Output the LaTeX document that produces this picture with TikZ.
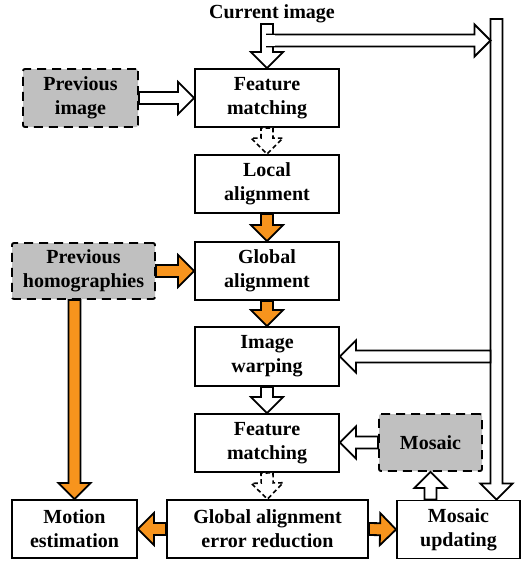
\documentclass[tikz,border=0pt]{standalone}
\usepackage{fontspec}
\setmainfont{Liberation Serif}
\usetikzlibrary{calc}
\definecolor{arrorange}{RGB}{247,148,29}
\definecolor{boxgray}{RGB}{192,192,192}
\newcommand\blockarr[3]{%
  \coordinate (ba-s) at #2;
  \coordinate (ba-e) at #3;
  \coordinate (ba-c) at ($(ba-e)!16pt!(ba-s)$);
  \draw[#1] ($(ba-s)!6pt!90:(ba-e)$) -- ($(ba-c)!6pt!90:(ba-e)$) -- ($(ba-c)!16pt!90:(ba-e)$) -- (ba-e) -- ($(ba-c)!16pt!-90:(ba-e)$) -- ($(ba-c)!6pt!-90:(ba-e)$) -- ($(ba-s)!6pt!-90:(ba-e)$) -- cycle;}
\tikzset{
  box/.style={draw, line width=1.9pt, fill=white, align=center, inner sep=0pt,
    font=\fontsize{20}{24}\selectfont\bfseries},
  graybox/.style={box, fill=boxgray, dash pattern=on 9pt off 6pt, rounded corners=2pt},
  hollowarr/.style={draw=black, fill=white, line width=1.8pt},
  orangearr/.style={draw=black, fill=arrorange, line width=1.8pt},
  dasharr/.style={draw=black, fill=white, line width=1.6pt, dash pattern=on 4.5pt off 3pt},
}
\begin{document}
\begin{tikzpicture}[x=1pt,y=-1pt]
\useasboundingbox (0,0) rectangle (521,563);
% nodes
\node[anchor=base, font=\fontsize{20}{24}\selectfont\bfseries] (cur) at (272,18) {Current image};
\node[box, minimum width=144pt, minimum height=58pt] (fm1) at (267,98) {Feature\\matching};
\node[box, minimum width=144pt, minimum height=58pt] (la) at (267,184) {Local\\alignment};
\node[box, minimum width=144pt, minimum height=58pt] (ga) at (267,271) {Global\\alignment};
\node[box, minimum width=144pt, minimum height=59pt] (iw) at (267,356.5) {Image\\warping};
\node[box, minimum width=144pt, minimum height=58pt] (fm2) at (267,443) {Feature\\matching};
\node[graybox, minimum width=115pt, minimum height=58pt] (pi) at (80.5,98) {Previous\\image};
\node[graybox, minimum width=143pt, minimum height=56pt] (ph) at (83.5,271) {Previous\\homographies};
\node[graybox, minimum width=103pt, minimum height=57pt] (mo) at (430.5,442.5) {Mosaic};
\node[box, minimum width=125pt, minimum height=58pt] (me) at (74.5,529) {Motion\\estimation};
\node[box, minimum width=201pt, minimum height=58pt] (gaer) at (267.5,529) {Global alignment\\error reduction};
\node[box, minimum width=123pt, minimum height=58pt] (mu) at (458.5,529.5) {Mosaic\\updating};
\coordinate (bartop) at (496.5,19);
\coordinate (curstart) at (267,24);
% big bar arrow down to mosaic updating
\blockarr{hollowarr}{(bartop)}{(bartop |- mu.north)}
% current image arrows
\blockarr{hollowarr}{(curstart)}{(fm1.north)}
\blockarr{hollowarr}{(267,40.5)}{(490.5,40.5)}
\fill[white] (261.9,35.4) rectangle (274.5,45.6);
% other arrows
\blockarr{hollowarr}{(pi.east)}{(fm1.west)}
\blockarr{dasharr}{(fm1.south)}{(la.north)}
\blockarr{orangearr}{(la.south)}{(ga.north)}
\blockarr{orangearr}{(ph.east)}{(ga.west)}
\blockarr{orangearr}{(me.north |- ph.south)}{(me.north)}
\blockarr{orangearr}{(ga.south)}{(iw.north)}
\blockarr{hollowarr}{(490.5,356.5)}{(iw.east)}
\blockarr{hollowarr}{(iw.south)}{(fm2.north)}
\blockarr{hollowarr}{(mo.west)}{(fm2.east |- mo.west)}
\blockarr{dasharr}{(fm2.south)}{(gaer.north)}
\blockarr{orangearr}{(gaer.west)}{(me.east)}
\blockarr{orangearr}{(gaer.east)}{(mu.west)}
\blockarr{hollowarr}{(mo.south |- mu.north)}{(mo.south)}
\end{tikzpicture}
\end{document}
